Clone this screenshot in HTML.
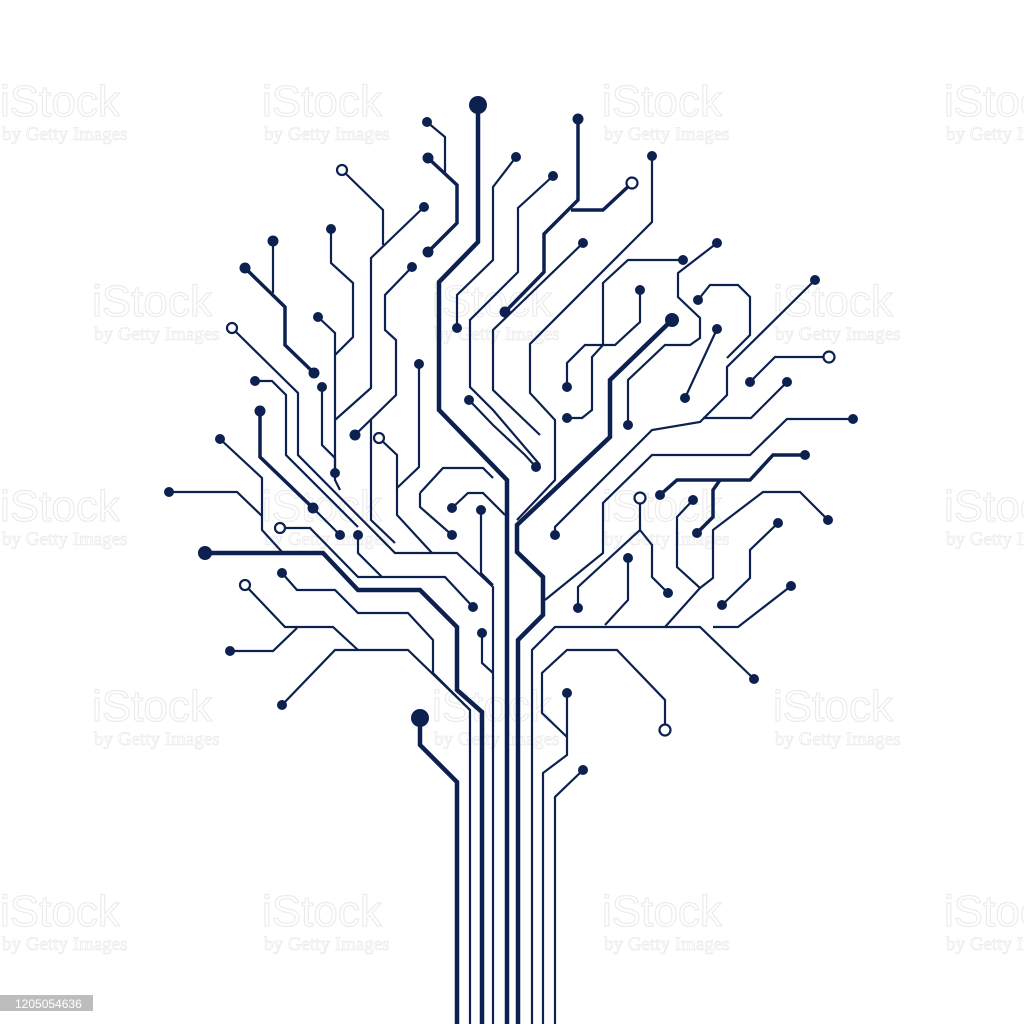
<!DOCTYPE html>
<html><head><meta charset="utf-8"><style>
html,body{margin:0;padding:0;background:#fff;width:1024px;height:1024px;overflow:hidden}
svg{display:block}
.t{fill:none;stroke:#0c2150;stroke-width:2.2;stroke-linejoin:miter;stroke-linecap:butt}
.k{fill:none;stroke:#0c2150;stroke-width:4.5;stroke-linejoin:miter}
.d{fill:#0c2150}
.o{fill:#fff;stroke:#0c2150;stroke-width:2.2}
.wm1{font-family:"Liberation Sans",sans-serif;font-size:44px;fill:none;stroke:#ececec;stroke-width:1.2}
.wm2{font-family:"Liberation Serif",serif;font-size:19px;fill:none;stroke:#ececec;stroke-width:0.8}
</style></head><body>
<svg width="1024" height="1024" viewBox="0 0 1024 1024">
<g id="wm"></g>
<g>
<polyline class="t" points="427,122 445,137 445,172"/>
<polyline class="t" points="342,170 383,210 383,245"/>
<polyline class="t" points="424,207 371,258 371,388 335,420"/>
<polyline class="t" points="331,229 331,263 353,283 353,337 335,355"/>
<polyline class="t" points="318,317 335,333 335,480 340,490"/>
<polyline class="t" points="273,241 273,293"/>
<polyline class="t" points="412,267 385,295 385,330 396,340 396,395 355,435"/>
<polyline class="t" points="232,328 298,393 298,455 395,553 457,553 493,587 493,1024"/>
<polyline class="t" points="255,381 272,381 286,395 286,455 358,527"/>
<polyline class="t" points="322,387 322,445 335,458 335,473"/>
<polyline class="t" points="220,439 262,478 262,530 283,553"/>
<polyline class="t" points="169,492 237,492 262,516"/>
<polyline class="t" points="419,364 419,467 397,488"/>
<polyline class="t" points="379,438 397,455 397,515 432,553"/>
<polyline class="t" points="371,420 371,520 395,543"/>
<polyline class="t" points="516,157 493,187 493,260 457,295 457,328"/>
<polyline class="t" points="553,176 518,208 518,272 470,320 470,387 493,410 540,465"/>
<polyline class="t" points="469,400 493,425 525,455 536,467"/>
<polyline class="t" points="652,156 652,222 530,344 530,393 555,420 555,480 517,520"/>
<polyline class="t" points="583,243 493,330 493,390 540,435"/>
<polyline class="t" points="683,260 628,260 603,283 603,345 592,357 592,410 582,418 567,418"/>
<polyline class="t" points="640,290 640,322 615,345 585,345 567,363 567,387"/>
<polyline class="t" points="717,243 678,273 678,297 700,318 700,338 690,345 665,345 628,380 628,425"/>
<polyline class="t" points="698,300 710,285 738,285 750,297 750,335 727,358"/>
<polyline class="t" points="717,329 685,398"/>
<polyline class="t" points="815,280 727,367 727,395 700,422 652,430 555,527 555,535"/>
<polyline class="t" points="787,382 751,418 703,418"/>
<polyline class="t" points="829,357 775,357 750,382"/>
<polyline class="t" points="853,419 787,419 750,455 652,455 603,503 603,553 545,600"/>
<polyline class="t" points="640,498 640,530 578,587 578,608"/>
<polyline class="t" points="640,530 652,545 652,577 668,593"/>
<polyline class="t" points="628,558 628,600 605,625"/>
<polyline class="t" points="693,500 677,517 677,567 700,588 665,627"/>
<polyline class="t" points="700,588 713,578 713,530 763,492 800,492 828,520"/>
<polyline class="t" points="778,523 750,550 750,578 722,605"/>
<polyline class="t" points="791,586 738,627 713,627"/>
<polyline class="t" points="532,1024 532,650 555,627 700,627 754,679"/>
<polyline class="t" points="543,1024 543,773 567,755 567,693"/>
<polyline class="t" points="567,737 542,713 542,673 567,650 617,650 665,700 665,730"/>
<polyline class="t" points="583,770 555,797 555,1024"/>
<polyline class="t" points="282,573 297,590 335,590 358,613 408,613 433,640 433,673 470,710"/>
<polyline class="t" points="282,705 335,650 408,650 470,710 470,1024"/>
<polyline class="t" points="245,585 285,627 333,627 358,650"/>
<polyline class="t" points="230,651 273,651 297,628"/>
<polyline class="t" points="280,528 310,528 358,577 445,577 473,607"/>
<polyline class="t" points="358,535 358,553 382,577"/>
<polyline class="t" points="340,535 300,495"/>
<polyline class="t" points="420,493 443,468 483,468 493,478"/>
<polyline class="t" points="420,493 420,507 452,535"/>
<polyline class="t" points="452,508 468,493 483,493 505,515"/>
<polyline class="t" points="481,510 481,573 493,585"/>
<polyline class="t" points="482,633 482,663 493,673"/>
</g>
<g>
<polyline class="k" points="478,105 478,242 439,282 439,410 507,480 507,1024"/>
<polyline class="k" points="518,1024 518,640 543,615 543,577 517,552 517,525 610,437 610,380 672,320"/>
<polyline class="k" points="205,553 323,553 358,590 420,590 457,627 457,690 482,712 482,1024"/>
<polyline class="k" points="420,718 420,745 457,782 457,1024"/>
<polyline class="k" points="428,158 457,185 457,223 428,252" style="stroke-width:3.5"/>
<polyline class="k" points="245,268 285,307 285,345 314,373" style="stroke-width:3.5"/>
<polyline class="k" points="260,411 260,457 313,508" style="stroke-width:3.5"/>
<polyline class="k" points="578,119 578,200 544,234 544,272 505,312" style="stroke-width:3.5"/>
<polyline class="k" points="571,210 603,210 632,183" style="stroke-width:3.5"/>
<polyline class="k" points="660,495 677,480 750,480 773,455 805,455" style="stroke-width:3.5"/>
<polyline class="k" points="720,480 713,490 713,517 697,533" style="stroke-width:3.5"/>
</g>
<g>
<circle class="d" cx="478" cy="105" r="9"/><circle class="d" cx="205" cy="553" r="7"/><circle class="d" cx="420" cy="718" r="9"/><circle class="d" cx="672" cy="320" r="7"/>
<circle class="d" cx="427" cy="122" r="5"/><circle class="d" cx="428" cy="158" r="5.5"/><circle class="d" cx="428" cy="252" r="5.5"/>
<circle class="d" cx="424" cy="207" r="5"/><circle class="d" cx="331" cy="229" r="5"/><circle class="d" cx="318" cy="317" r="5"/>
<circle class="d" cx="273" cy="241" r="5.5"/><circle class="d" cx="245" cy="268" r="5.5"/><circle class="d" cx="314" cy="373" r="5.5"/>
<circle class="d" cx="412" cy="267" r="5"/><circle class="d" cx="355" cy="435" r="5.5"/><circle class="d" cx="255" cy="381" r="5"/>
<circle class="d" cx="322" cy="387" r="5"/><circle class="d" cx="335" cy="473" r="5"/><circle class="d" cx="220" cy="439" r="5"/>
<circle class="d" cx="169" cy="492" r="5"/><circle class="d" cx="260" cy="411" r="5.5"/><circle class="d" cx="313" cy="508" r="5.5"/>
<circle class="d" cx="419" cy="364" r="5"/><circle class="d" cx="516" cy="157" r="5"/><circle class="d" cx="457" cy="328" r="5"/>
<circle class="d" cx="553" cy="176" r="5"/><circle class="d" cx="469" cy="400" r="5"/><circle class="d" cx="536" cy="467" r="5"/>
<circle class="d" cx="652" cy="156" r="5"/><circle class="d" cx="583" cy="243" r="5"/><circle class="d" cx="578" cy="119" r="5.5"/>
<circle class="d" cx="505" cy="312" r="5.5"/><circle class="d" cx="683" cy="260" r="5"/><circle class="d" cx="567" cy="418" r="5"/>
<circle class="d" cx="640" cy="290" r="5"/><circle class="d" cx="567" cy="387" r="5"/><circle class="d" cx="717" cy="243" r="5"/>
<circle class="d" cx="628" cy="425" r="5"/><circle class="d" cx="698" cy="300" r="5"/><circle class="d" cx="717" cy="329" r="5"/>
<circle class="d" cx="685" cy="398" r="5"/><circle class="d" cx="815" cy="280" r="5"/><circle class="d" cx="787" cy="382" r="5"/>
<circle class="d" cx="750" cy="382" r="5"/><circle class="d" cx="853" cy="419" r="5"/><circle class="d" cx="805" cy="455" r="5"/>
<circle class="d" cx="660" cy="495" r="5"/><circle class="d" cx="697" cy="533" r="5"/><circle class="d" cx="578" cy="608" r="5"/>
<circle class="d" cx="668" cy="593" r="5"/><circle class="d" cx="628" cy="558" r="5"/><circle class="d" cx="693" cy="500" r="5"/>
<circle class="d" cx="828" cy="520" r="5"/><circle class="d" cx="778" cy="523" r="5"/><circle class="d" cx="722" cy="605" r="5"/>
<circle class="d" cx="791" cy="586" r="5"/><circle class="d" cx="754" cy="679" r="5"/><circle class="d" cx="567" cy="693" r="5"/>
<circle class="d" cx="583" cy="770" r="5"/><circle class="d" cx="555" cy="535" r="5"/><circle class="d" cx="282" cy="573" r="5"/>
<circle class="d" cx="282" cy="705" r="5"/><circle class="d" cx="230" cy="651" r="5"/><circle class="d" cx="358" cy="535" r="5"/>
<circle class="d" cx="340" cy="535" r="5"/><circle class="d" cx="473" cy="607" r="5"/><circle class="d" cx="452" cy="535" r="5"/>
<circle class="d" cx="452" cy="508" r="5"/><circle class="d" cx="481" cy="510" r="5"/><circle class="d" cx="482" cy="633" r="5"/>
</g>
<g>
<circle class="o" cx="342" cy="170" r="5"/><circle class="o" cx="232" cy="328" r="5"/><circle class="o" cx="379" cy="438" r="5"/>
<circle class="o" cx="280" cy="528" r="5"/><circle class="o" cx="245" cy="585" r="5"/><circle class="o" cx="632" cy="183" r="5.5"/>
<circle class="o" cx="829" cy="357" r="5.5"/><circle class="o" cx="640" cy="498" r="5.5"/><circle class="o" cx="665" cy="730" r="5.5"/>
</g>
<g>
<rect x="0" y="995" width="93" height="16" fill="#bdbdbd"/>
<text x="15" y="1008" font-family="Liberation Sans, sans-serif" font-size="12" fill="#fff">1205054636</text>
</g>
</svg>
<script>
const wmRows=[[100,[0,262,602,944]],[300,[92,432,773]],[505,[0,262,602,944]],[705,[92,432,773]],[910,[0,262,602,944]]];
const g=document.getElementById('wm');
wmRows.forEach(([y,xs])=>xs.forEach(x=>{
 const a=document.createElementNS('http://www.w3.org/2000/svg','text');
 
 
 a.setAttribute('class','wm1');a.setAttribute('x',x);a.setAttribute('y',y+16);a.textContent='iStock';g.appendChild(a);
 const b=document.createElementNS('http://www.w3.org/2000/svg','text');
 
 
 b.setAttribute('class','wm2');b.setAttribute('x',x+2);b.setAttribute('y',y+40);b.textContent='by Getty Images';g.appendChild(b);
}));
</script>
</body></html>
